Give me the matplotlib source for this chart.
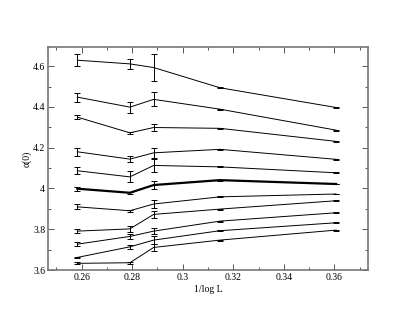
import matplotlib
matplotlib.use("Agg")
import matplotlib.pyplot as plt
from matplotlib.ticker import MultipleLocator

# x positions: 1/log L for L = 48, 36, 32, 24, 16
x = [0.2583, 0.2791, 0.2885, 0.3147, 0.3607]

# alpha(0) curves, top to bottom, with error bars
curves = [
    [4.629, 4.611, 4.593, 4.494, 4.397],
    [4.448, 4.399, 4.437, 4.389, 4.286],
    [4.350, 4.273, 4.299, 4.295, 4.231],
    [4.180, 4.144, 4.175, 4.192, 4.143],
    [4.087, 4.057, 4.113, 4.106, 4.077],
    [3.999, 3.979, 4.017, 4.041, 4.022],
    [3.910, 3.891, 3.924, 3.959, 3.973],
    [3.791, 3.802, 3.873, 3.899, 3.940],
    [3.727, 3.765, 3.791, 3.840, 3.881],
    [3.662, 3.714, 3.747, 3.793, 3.832],
    [3.633, 3.636, 3.711, 3.747, 3.796],
]
errors = [
    [0.028, 0.026, 0.068, 0.002, 0.002],
    [0.022, 0.027, 0.034, 0.002, 0.002],
    [0.008, 0.004, 0.018, 0.002, 0.002],
    [0.020, 0.016, 0.026, 0.002, 0.002],
    [0.016, 0.027, 0.030, 0.002, 0.002],
    [0.010, 0.006, 0.021, 0.002, 0.002],
    [0.012, 0.005, 0.019, 0.002, 0.002],
    [0.008, 0.014, 0.019, 0.002, 0.002],
    [0.009, 0.011, 0.016, 0.002, 0.002],
    [0.004, 0.010, 0.020, 0.002, 0.002],
    [0.005, 0.005, 0.019, 0.002, 0.002],
]
bold_index = 5

plt.rcParams["font.family"] = ["Liberation Serif", "DejaVu Serif"]

fig = plt.figure(figsize=(4.15, 3.2), dpi=100)
ax = fig.add_axes([0.1157, 0.156, 0.771, 0.696])

for i, (ys, es) in enumerate(zip(curves, errors)):
    lw = 1.6 if i == bold_index else 0.7
    ax.errorbar(x, ys, yerr=es, color="black", lw=lw, elinewidth=0.7,
                capsize=2.5, capthick=0.7)

ax.set_xlim(0.2467, 0.3733)
ax.set_ylim(3.6, 4.692)
ax.xaxis.set_minor_locator(MultipleLocator(0.01))
ax.yaxis.set_minor_locator(MultipleLocator(0.1))
ax.set_xticks([0.26, 0.28, 0.30, 0.32, 0.34, 0.36])
ax.set_xticklabels(["0.26", "0.28", "0.3", "0.32", "0.34", "0.36"])
ax.set_yticks([3.6, 3.8, 4.0, 4.2, 4.4, 4.6])
ax.set_yticklabels(["3.6", "3.8", "4", "4.2", "4.4", "4.6"])
ax.tick_params(which="both", direction="in", top=True, right=True,
               labelsize=7, width=0.7, pad=2, color="#555555")
ax.tick_params(which="major", length=4)
ax.tick_params(which="minor", length=2)
for s in ax.spines.values():
    s.set_linewidth(1.2)
    s.set_color("#777777")

ax.set_xlabel("1/log L", fontsize=7, labelpad=2)
ax.set_ylabel("α(0)", fontsize=7, labelpad=1)

fig.savefig("out.png", dpi=100)
